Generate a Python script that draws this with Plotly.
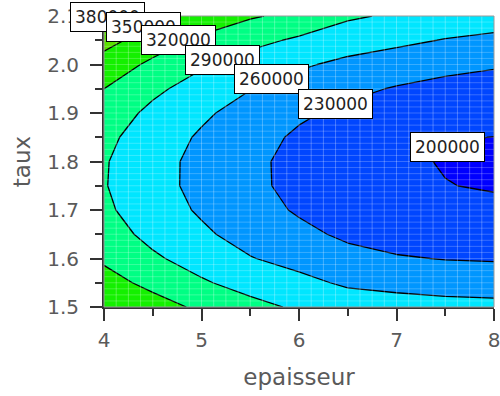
import numpy as np
import plotly.graph_objects as go

# ---------------- data ----------------
epaisseur = [4.0, 4.5, 5.0, 5.5, 6.0, 6.5, 7.0, 7.5, 8.0]
taux = [1.50, 1.55, 1.60, 1.65, 1.70, 1.75, 1.80, 1.85, 1.90, 1.95, 2.00, 2.05, 2.10]
# rows follow taux, columns follow epaisseur
cout = [
    [348000, 332800, 314200, 299200, 285500, 276800, 273400, 270000, 268100],  # 1.50
    [331800, 311500, 293600, 278200, 268100, 255400, 250600, 247300, 245800],  # 1.55
    [315300, 294500, 277100, 261400, 250000, 238300, 232300, 229000, 227700],  # 1.60
    [303200, 281800, 264800, 248800, 236400, 225300, 218400, 215000, 213800],  # 1.65
    [295300, 273500, 256500, 240300, 227100, 216600, 209000, 205300, 204100],  # 1.70
    [291700, 269400, 252400, 236100, 222300, 212200, 203900, 200500, 198500],  # 1.75
    [292400, 269700, 252400, 236000, 221900, 211900, 203300, 198900, 197100],  # 1.80
    [297400, 274300, 256500, 240100, 225800, 215900, 207100, 201200, 199800],  # 1.85
    [306600, 283100, 264800, 248400, 234200, 224100, 215300, 209800, 206700],  # 1.90
    [320100, 296300, 277100, 260800, 246900, 236500, 228000, 221800, 217800],  # 1.95
    [337900, 313900, 293600, 277400, 264100, 253100, 245100, 238000, 233100],  # 2.00
    [360000, 335700, 314200, 298300, 285700, 274000, 266600, 258600, 252500],  # 2.05
    [386300, 361800, 338900, 323300, 311600, 294000, 286000, 280000, 276100],  # 2.10
]
levels = [200000, 230000, 260000, 290000, 320000, 350000, 380000]
level_labels = ["380000", "350000", "320000", "290000", "260000", "230000", "200000"]
label_x = [4.036, 4.406, 4.765, 5.217, 5.720, 6.372, 7.527]
label_y = [2.097, 2.077, 2.050, 2.009, 1.970, 1.919, 1.830]
x_ticks = [4, 5, 6, 7, 8]
y_ticks = [1.5, 1.6, 1.7, 1.8, 1.9, 2.0, 2.1]

# ---------------- styling ----------------
band_colors = ["#0000ff", "#0046ff", "#0096ff", "#00e6ff",
               "#00ff84", "#14f000", "#5ae000", "#a0e000"]
n = len(band_colors) - 1
colorscale = []
for i, c in enumerate(band_colors):
    lo = max(0.0, (i - 0.5) / n)
    hi = min(1.0, (i + 0.5) / n)
    colorscale.append([lo, c])
    colorscale.append([hi, c])

fig = go.Figure()
fig.add_trace(go.Contour(
    x=epaisseur, y=taux, z=cout,
    contours=dict(start=levels[0], end=levels[-1], size=levels[1] - levels[0],
                  coloring="fill", showlabels=False),
    colorscale=colorscale,
    line=dict(color="black", width=1.3, smoothing=0),
    showscale=False,
    hoverinfo="skip",
))

# faint white mesh over the filled contours
shapes = []
for gx in np.arange(4.125, 7.99, 0.125):
    shapes.append(dict(type="line", xref="x", yref="paper", x0=gx, x1=gx, y0=0, y1=1,
                       line=dict(color="rgba(255,255,255,0.28)", width=1), layer="above"))
for gy in np.arange(1.5125, 2.099, 0.0125):
    shapes.append(dict(type="line", xref="paper", yref="y", x0=0, x1=1, y0=gy, y1=gy,
                       line=dict(color="rgba(255,255,255,0.22)", width=1), layer="above"))
shapes.append(dict(type="rect", xref="paper", yref="paper", x0=0, x1=1, y0=0, y1=1,
                   line=dict(color="#9a9a9a", width=1), layer="above"))

annotations = []
for t, ax_, ay_ in zip(level_labels, label_x, label_y):
    annotations.append(dict(x=ax_, y=ay_, xref="x", yref="y", text=t, showarrow=False,
                            font=dict(family="DejaVu Sans", size=17, color="#222"),
                            bgcolor="white", bordercolor="black", borderwidth=1,
                            borderpad=4))

axis_font = dict(family="DejaVu Sans", size=20, color="#5a5a5a")
title_font = dict(family="DejaVu Sans", size=23, color="#5a5a5a")
fig.update_layout(
    width=500, height=396,
    margin=dict(l=104, r=6, t=16, b=89, autoexpand=False),
    paper_bgcolor="white", plot_bgcolor="white",
    shapes=shapes, annotations=annotations,
    showlegend=False,
    xaxis=dict(range=[4, 8], tickvals=x_ticks, ticktext=[str(v) for v in x_ticks],
               automargin=False, ticklabeloverflow="allow",
               showgrid=False, zeroline=False, showline=True, linecolor="#333", linewidth=2,
               ticks="outside", ticklen=12, tickwidth=2, tickcolor="#333",
               minor=dict(dtick=0.5, ticks="outside", ticklen=7, tickwidth=2, tickcolor="#333"),
               tickfont=axis_font, ticklabelstandoff=2,
               title=dict(text="epaisseur", font=title_font, standoff=18)),
    yaxis=dict(range=[1.5, 2.1], tickvals=y_ticks, ticktext=["%.1f" % v for v in y_ticks],
               automargin=False, ticklabeloverflow="allow",
               showgrid=False, zeroline=False, showline=True, linecolor="#333", linewidth=2,
               ticks="outside", ticklen=12, tickwidth=2, tickcolor="#333",
               minor=dict(dtick=0.05, ticks="outside", ticklen=7, tickwidth=2, tickcolor="#333"),
               tickfont=axis_font, ticklabelstandoff=7,
               title=dict(text="taux", font=title_font, standoff=10)),
)

fig.write_html("out.html", config={"displayModeBar": False},
               post_script="document.body.style.margin='0';document.body.style.padding='0';")
